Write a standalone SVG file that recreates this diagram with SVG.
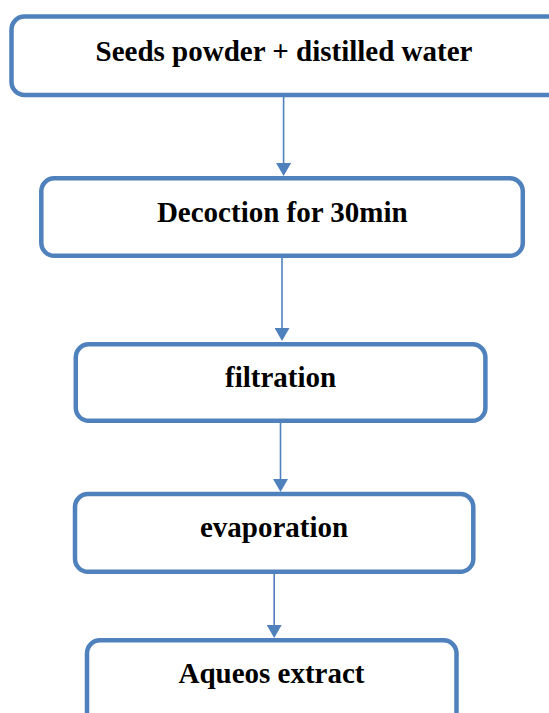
<svg xmlns="http://www.w3.org/2000/svg" width="549" height="713" viewBox="0 0 549 713">
<style>
.box{fill:#ffffff;stroke:#4F81BD;stroke-width:4.5}
.lbl{font-family:"Liberation Serif","Times New Roman",serif;font-weight:bold;font-size:29px;fill:#000000;text-anchor:middle}
.conn{stroke:#4F81BD;stroke-width:1.6;fill:none}
</style>
<defs>
<marker id="ah" markerUnits="userSpaceOnUse" markerWidth="14" markerHeight="15" viewBox="0 0 14 15" refX="9" refY="7.5" orient="auto">
<path d="M0,0 L13,7.5 L0,15 z" fill="#4F81BD"/>
</marker>
</defs>
<rect width="549" height="713" fill="#ffffff"/>
<g id="connectors">
<line class="conn" x1="283.6" y1="97" x2="283.6" y2="172" marker-end="url(#ah)"/>
<line class="conn" x1="282" y1="258" x2="282" y2="337" marker-end="url(#ah)"/>
<line class="conn" x1="280.5" y1="423" x2="280.5" y2="488" marker-end="url(#ah)"/>
<line class="conn" x1="274.2" y1="574" x2="274.2" y2="634" marker-end="url(#ah)"/>
</g>
<g id="node1">
<rect class="box" x="11.5" y="16.5" width="560" height="78.5" rx="13"/>
<text class="lbl" x="284" y="61">Seeds powder + distilled water</text>
</g>
<g id="node2">
<rect class="box" x="41.3" y="178.3" width="481.5" height="77.5" rx="13"/>
<text class="lbl" x="282.3" y="221.7">Decoction for 30min</text>
</g>
<g id="node3">
<rect class="box" x="75.8" y="344.3" width="409.6" height="76.5" rx="13"/>
<text class="lbl" x="280.6" y="386.7">filtration</text>
</g>
<g id="node4">
<rect class="box" x="75" y="494" width="398.3" height="77.8" rx="13"/>
<text class="lbl" x="274" y="537.3">evaporation</text>
</g>
<g id="node5">
<rect class="box" x="87" y="640.3" width="369.5" height="90" rx="13"/>
<text class="lbl" x="271.5" y="682.7">Aqueos extract</text>
</g>
</svg>
